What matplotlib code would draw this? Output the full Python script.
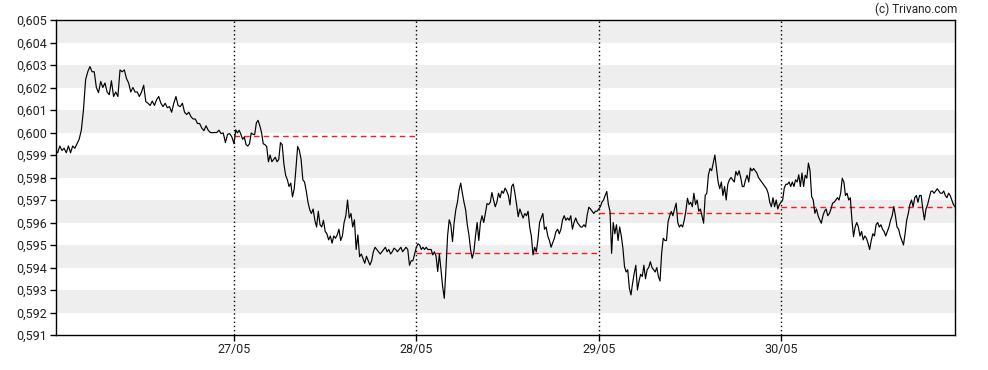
import numpy as np
import matplotlib
matplotlib.use('Agg')
import matplotlib.pyplot as plt
from matplotlib.ticker import FuncFormatter, MultipleLocator

plt.rcParams['font.family'] = ['Roboto', 'DejaVu Sans']

# trading days shown on the x axis
dates = ['27/05', '28/05', '29/05', '30/05']

# intraday quotes, one list per session (26/05 .. 30/05)
day0 = [0.5992, 0.5991, 0.5994, 0.5992, 0.5993, 0.5991, 0.5994, 0.5991, 0.5994, 0.5993, 0.5995, 0.5997,
        0.6001, 0.6010, 0.60235, 0.6027, 0.60293, 0.6027, 0.6027, 0.6020, 0.60177, 0.60227, 0.6020, 0.6022,
        0.6018, 0.60168, 0.6023, 0.6016, 0.6018, 0.6016, 0.60278, 0.6027, 0.60278, 0.6024, 0.6022, 0.6018,
        0.6020, 0.6018, 0.6018, 0.6016, 0.6018, 0.6021, 0.60137, 0.6013, 0.6012, 0.6014, 0.6012, 0.60146,
        0.6016, 0.6013, 0.60115, 0.6013, 0.6011, 0.60115, 0.6009, 0.6013, 0.6016, 0.6012, 0.60115, 0.6013,
        0.6009, 0.6008, 0.6009, 0.6007, 0.6006, 0.6006, 0.6004, 0.6004, 0.6002, 0.60008, 0.6003, 0.6001,
        0.6000, 0.59999, 0.6000, 0.6000, 0.6001, 0.59995, 0.59998, 0.59955, 0.59992, 0.59995, 0.5998]
day1 = [0.5995, 0.60012, 0.59998, 0.6001, 0.59992, 0.5997, 0.5998, 0.59946, 0.5994, 0.5995, 0.59998, 0.59992,
        0.5999, 0.60043, 0.60054, 0.6003, 0.6000, 0.5995, 0.59946, 0.59938, 0.5987, 0.5990, 0.5987, 0.5988,
        0.5989, 0.5987, 0.5988, 0.59955, 0.59946, 0.5986, 0.5981, 0.5979, 0.5976, 0.59775, 0.59714, 0.5975,
        0.5984, 0.59938, 0.5992, 0.5988, 0.5979, 0.5978, 0.5974, 0.5969, 0.59657, 0.5964, 0.5966, 0.5961,
        0.5958, 0.5965, 0.5959, 0.5958, 0.5961, 0.5956, 0.5955, 0.59523, 0.5954, 0.59508, 0.5954, 0.5953,
        0.59545, 0.5957, 0.5952, 0.5954, 0.5960, 0.5963, 0.5970, 0.5962, 0.5964, 0.5958,
        0.59612, 0.5948, 0.59545, 0.59448, 0.5946, 0.5944, 0.59419, 0.5945, 0.5943, 0.59411, 0.5943, 0.5947,
        0.5949, 0.5948, 0.5947, 0.5946, 0.5947, 0.5948, 0.5949, 0.5947, 0.5948, 0.5946, 0.5947, 0.59486,
        0.5948, 0.5947, 0.5948, 0.5949, 0.5947, 0.5948, 0.5949, 0.5948, 0.5941, 0.5943, 0.5943, 0.5946]
day2 = [0.5949, 0.59505, 0.5950, 0.5948, 0.5949, 0.5948, 0.5949, 0.5948, 0.5948, 0.5948, 0.59456, 0.5947,
        0.5945, 0.59382, 0.5946, 0.5939, 0.59315, 0.59263, 0.5939, 0.5954, 0.59612, 0.5959, 0.59515, 0.5960,
        0.59656, 0.5969, 0.59745, 0.59775, 0.5973, 0.5969, 0.59656, 0.5959, 0.59545, 0.5948, 0.59441, 0.5947,
        0.5954, 0.5960, 0.5952, 0.5960, 0.5963, 0.5960, 0.5964, 0.59684, 0.5968, 0.5969, 0.59733, 0.5970,
        0.5967, 0.5969, 0.5973, 0.5971, 0.5974, 0.5973, 0.59753, 0.5974, 0.5972, 0.59678, 0.5976, 0.59771,
        0.5973, 0.5968, 0.59626, 0.5966, 0.5964, 0.5962, 0.5964, 0.5963, 0.5965, 0.5958, 0.5954, 0.59456,
        0.5949, 0.5947, 0.59523, 0.5960, 0.5962, 0.5964, 0.5957, 0.5958, 0.5954, 0.5952, 0.5949, 0.5951,
        0.5953, 0.5956, 0.5957, 0.5955, 0.5957, 0.59612, 0.5963, 0.5961, 0.5962, 0.5961, 0.5963, 0.5957,
        0.5960, 0.5962, 0.5960, 0.5959, 0.5958, 0.5958, 0.5959, 0.5958, 0.59634, 0.59668, 0.5966, 0.5965,
        0.5964, 0.5965, 0.5965]
day3 = [0.5966, 0.5967, 0.5969, 0.5970, 0.5972, 0.59738, 0.5968, 0.5965, 0.59463, 0.5960, 0.5955, 0.5959,
        0.5952, 0.5958, 0.5954, 0.59486, 0.59404, 0.5938, 0.5939, 0.59308, 0.59278, 0.5933, 0.59374, 0.5941,
        0.5930, 0.5934, 0.5937, 0.5936, 0.5941, 0.5935, 0.5939, 0.5940, 0.59426, 0.5940, 0.5939, 0.5938,
        0.5940, 0.5936, 0.5934, 0.59463, 0.5953, 0.5952, 0.5952, 0.59604, 0.5963, 0.59649, 0.5963, 0.5966,
        0.59686, 0.5960, 0.5958, 0.5959, 0.5958, 0.5961, 0.5965, 0.59708, 0.5968, 0.5969, 0.5967, 0.5973,
        0.5968, 0.5970, 0.5965, 0.5966, 0.5963, 0.59597, 0.5972, 0.5973, 0.59812, 0.5984, 0.5983, 0.59864,
        0.5990, 0.5984, 0.5978, 0.5975, 0.5978, 0.5972, 0.5976, 0.5970, 0.5977, 0.5979, 0.5980, 0.5979,
        0.5978, 0.59827, 0.5981, 0.5983, 0.5980, 0.5976, 0.5976, 0.5979, 0.5981, 0.5978, 0.59842, 0.5983,
        0.5984, 0.5983, 0.5982, 0.5980, 0.5979, 0.5978, 0.5977, 0.5976, 0.5975, 0.5973, 0.5969, 0.5967,
        0.5971, 0.5967, 0.5970, 0.5966, 0.5968]
day4 = [0.5969, 0.5970, 0.59753, 0.5977, 0.5977, 0.5978, 0.5976, 0.5978, 0.5976, 0.5979, 0.5978, 0.59812,
        0.5976, 0.5982, 0.5976, 0.5981, 0.59797, 0.59864, 0.5983, 0.59715, 0.5970, 0.59641, 0.5966, 0.5963,
        0.59612, 0.59597, 0.5963, 0.5965, 0.5966, 0.5963, 0.5964, 0.5966, 0.59686, 0.5969, 0.5970, 0.5971,
        0.5970, 0.5973, 0.59797, 0.5978, 0.5972, 0.5973, 0.5970, 0.5971, 0.59612, 0.59537, 0.5958, 0.5960,
        0.5958, 0.5954, 0.5956, 0.59523, 0.5954, 0.5953, 0.59508, 0.5948, 0.5952, 0.5955, 0.5954, 0.5959,
        0.5960, 0.5958, 0.5959, 0.5957, 0.5956, 0.5954, 0.5956, 0.5958, 0.5961, 0.5963, 0.59671, 0.5963,
        0.5958, 0.5957, 0.5954, 0.5952, 0.5950, 0.5955, 0.5961, 0.5964, 0.5968, 0.5970, 0.5967, 0.5971,
        0.5972, 0.5969, 0.5972, 0.5972, 0.5966, 0.59612, 0.5966, 0.5968, 0.5971, 0.59738, 0.5974, 0.5973,
        0.5974, 0.5975, 0.5974, 0.5973, 0.5973, 0.5974, 0.5972, 0.5971, 0.5973, 0.5972, 0.5970, 0.5968,
        0.5967]

# session bounds in days (27/05 = 1) and previous close per session
day_start = [0.021, 1, 2, 3, 4]
day_end = [1, 2, 3, 4, 4.954]
prev_close = [0.59985, 0.59463, 0.59644, 0.59668]

sessions = [day0, day1, day2, day3, day4]
t_all = []
v_all = []
for i, vals in enumerate(sessions):
    last = i == len(sessions) - 1
    t_all.extend(np.linspace(day_start[i], day_end[i], len(vals), endpoint=last))
    v_all.extend(vals)

fig = plt.figure(figsize=(9.88, 3.70), dpi=100)
ax = fig.add_axes([55.5 / 988, 1 - 335 / 370, 899.5 / 988, 315 / 370])

ymin, ymax = 0.591, 0.605
# alternating grey bands
for k in range(7):
    lo = 0.592 + 0.002 * k
    ax.axhspan(lo, lo + 0.001, color='#eeeeee', lw=0, zorder=0)

for d in range(1, len(dates) + 1):
    ax.axvline(d, color='black', lw=1, ls=(0, (1, 2)), zorder=1)

for i, pc in enumerate(prev_close):
    ax.plot([day_start[i + 1], day_end[i + 1]], [pc, pc], color='#ff1a1a', lw=1,
            dashes=(4, 3), zorder=2)

ax.plot(t_all, v_all, color='black', lw=0.85, zorder=3)

ax.set_xlim(t_all[0], t_all[-1])
ax.set_ylim(ymin, ymax)
ax.yaxis.set_major_locator(MultipleLocator(0.001))
ax.yaxis.set_major_formatter(FuncFormatter(lambda v, p: f"{v:.3f}".replace('.', ',')))
ax.set_xticks(range(1, len(dates) + 1))
ax.set_xticklabels(dates)
ax.tick_params(axis='both', direction='out', length=4, width=1, labelsize=9,
               labelcolor='#222222', pad=2)
for s in ax.spines.values():
    s.set_color('black')
    s.set_linewidth(1)

fig.text(957 / 988, 1 - 9 / 370, '(c) Trivano.com', ha='right', va='center', fontsize=8.5,
         color='#222222')

fig.savefig('out.png', dpi=100)
